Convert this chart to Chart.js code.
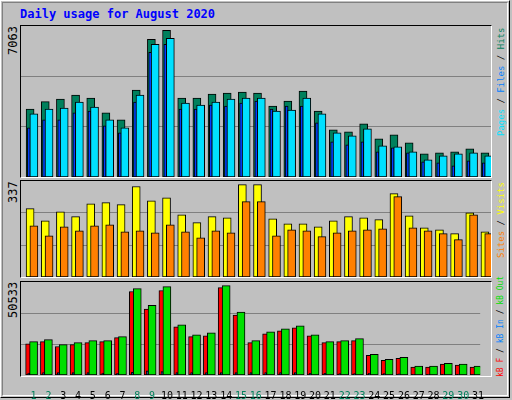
<!DOCTYPE html>
<html><head><meta charset="utf-8">
<script src="https://cdn.jsdelivr.net/npm/chart.js@4"></script>
<style>
html,body{margin:0;padding:0}
body{width:512px;height:400px;background:#C0C0C0;position:relative;overflow:hidden;font-family:"DejaVu Sans Mono",monospace}
#outer{position:absolute;left:0;top:0;width:510px;height:398px;border-top:1px solid #fff;border-left:1px solid #fff;border-right:1px solid #000;border-bottom:1px solid #000;box-sizing:border-box}
#outer2{position:absolute;left:2px;top:2px;width:506px;height:394px;border-top:1px solid #808080;border-left:1px solid #808080;border-right:1px solid #fff;border-bottom:1px solid #fff;box-sizing:border-box}
.frame{position:absolute;left:20px;width:472px;box-sizing:border-box;border-top:1px solid #000;border-left:1px solid #000;border-right:1px solid #fff;border-bottom:1px solid #fff}
.title{position:absolute;left:20px;top:7px;color:#0000FF;font-weight:bold;font-size:12px}
.rl{position:absolute;font-size:9px;transform-origin:0 0;transform:rotate(-90deg);white-space:nowrap}
canvas{position:absolute}
</style></head><body>
<div id="outer"></div><div id="outer2"></div>
<div class="title">Daily usage for August 2020</div>
<div class="frame" style="top:25px;height:153px"></div>
<div class="frame" style="top:180px;height:98px"></div>
<div class="frame" style="top:281px;height:96px"></div>
<div class="rl" style="left:6px;top:55px;font-size:12px">7063</div>
<div class="rl" style="left:6px;top:203px;font-size:12px">337</div>
<div class="rl" style="left:6px;top:318px;font-size:12px">50533</div>
<div class="rl" style="left:496px;top:136px"><span style="color:#00E0FF">Pages</span> / <span style="color:#0080FF">Files</span> / <span style="color:#00805C">Hits</span></div>
<div class="rl" style="left:496px;top:258px"><span style="color:#FF8000">Sites</span> / <span style="color:#FFFF00">Visits</span></div>
<div class="rl" style="left:496px;top:377px;font-size:8px"><span style="color:#FF0000">kB F</span> / <span style="color:#0080FF">kB In</span> / <span style="color:#00E000">kB Out</span></div>
<canvas id="c1" style="left:21px;top:26px;width:470px;height:151px"></canvas>
<canvas id="c2" style="left:21px;top:181px;width:470px;height:96px"></canvas>
<canvas id="c3" style="left:21px;top:282px;width:470px;height:118px"></canvas>
<script>
const days=[1,2,3,4,5,6,7,8,9,10,11,12,13,14,15,16,17,18,19,20,21,22,23,24,25,26,27,28,29,30,31];
const weekend=[1,2,8,9,15,16,22,23,29,30];
const hits=[3276,3627,3755,3947,3803,3084,2749,4187,6632,7063,3803,3803,3995,4043,4091,4043,3420,3659,4139,3180,2269,2173,2557,1838,2029,1646,1119,1167,1214,1358,1167];
const files=[3036,3276,3324,3611,3372,2749,2365,3947,6392,6680,3564,3468,3611,3755,3803,3803,3180,3228,3803,3036,2125,1982,2317,1502,1454,1215,831,1023,1119,1167,1023];
const pages=[2365,2749,2749,3084,3180,2461,2125,3611,6009,6392,3276,3276,3468,3420,3564,3659,3276,3420,3420,2605,1694,1550,1694,1215,1406,1167,735,687,543,783,687];
const visits=[249,205,238,220,267,271,264,330,278,289,227,198,220,216,337,337,212,194,194,183,205,220,216,209,304,223,179,172,158,234,165];
const sites=[187,150,183,168,187,190,165,168,161,190,165,143,168,161,275,275,150,172,168,147,161,168,172,176,293,179,168,158,136,227,158];
const kbF=[17585,18880,16104,17214,18325,18880,21101,47201,37205,47756,27210,21657,22212,49422,33873,18325,23323,24989,26654,22212,18325,18880,19436,11106,8330,9440,4442,4442,6108,5553,4442];
const kbIn=[1100,1300,1400,1400,1400,1100,1000,1500,2300,2000,1400,1400,1400,1300,1400,1400,1400,1400,1400,1000,900,800,800,900,800,700,300,300,300,300,300];
const kbOut=[18880,19991,17214,18325,19436,19436,21657,48866,39426,49977,28320,22767,23878,50533,35539,19436,24433,26099,27765,22767,18880,19436,20546,11661,8885,9995,4998,4998,6664,6108,4998];
const maxes=[7271,350,52570];

function ds(vals,off,color,w,order){
  return {data:days.map((d,i)=>({x:d+off,y:vals[i]})),backgroundColor:color,borderColor:'#000',borderWidth:1,
    borderSkipped:false,barThickness:w,grouped:false,order:order};
}
function opts(max,showX){
  return {responsive:false,animation:false,devicePixelRatio:1,
    layout:{padding:0},
    plugins:{legend:{display:false},tooltip:{enabled:false}},
    scales:{
      x:{type:'linear',min:0.15,max:31.15,display:showX,offset:false,
        grid:{display:false,offset:false},border:{display:false},
        afterBuildTicks:s=>{s.ticks=days.map(d=>({value:d}));},
        afterFit:s=>{if(showX)s.height=25;},
        ticks:{padding:7,autoSkip:false,maxRotation:0,font:{family:'DejaVu Sans Mono',size:10},
          color:c=>weekend.includes(c.tick.value)?'#00805C':'#000',
          callback:v=>String(v)}},
      y:{min:0,max:max,display:true,
        afterBuildTicks:s=>{s.ticks=[{value:max/3},{value:2*max/3}];},
        afterFit:s=>{s.width=0;},
        grid:{color:'#808080',lineWidth:1,drawTicks:false},border:{display:false},
        ticks:{display:false}}
    }};
}
function mk(id,w,h,datasets,max,showX){
  const c=document.getElementById(id);c.width=w;c.height=h;
  new Chart(c,{type:'bar',data:{datasets},options:opts(max,showX)});
}
mk('c1',470,151,[ds(hits,-0.25,'#00805C',8,3),ds(pages,-0.33,'#0040FF',3,2),ds(files,0,'#00E0FF',8,1)],maxes[0],false);
mk('c2',470,96,[ds(visits,-0.25,'#FFFF00',8,2),ds(sites,0,'#FF8000',8,1)],maxes[1],false);
mk('c3',470,118,[ds(kbF,-0.37,'#FF0000',5,3),ds(kbIn,-0.33,'#0080FF',2,1),ds(kbOut,0,'#00E000',8,2)],maxes[2],true);
</script>
</body></html>
